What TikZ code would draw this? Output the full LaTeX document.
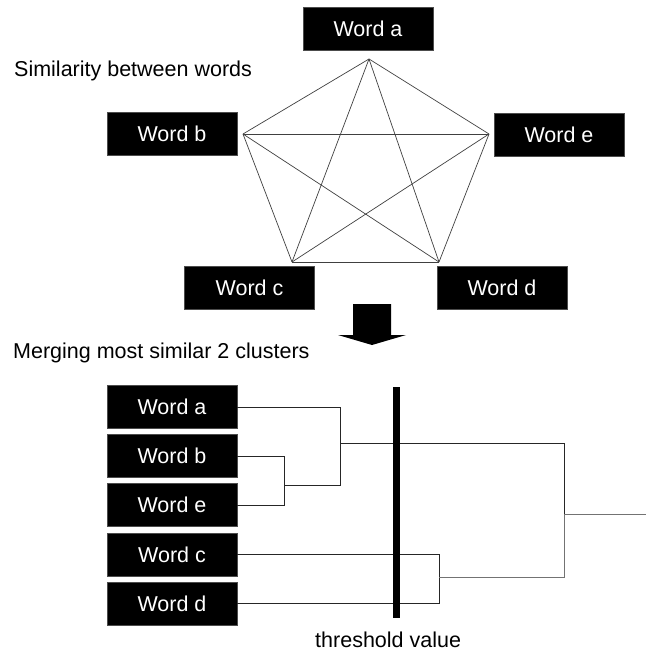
\documentclass[tikz,border=0pt]{standalone}
\usepackage{fontspec}
\setmainfont{Liberation Sans}
\begin{document}
\begin{tikzpicture}[x=1pt,y=-1pt,
  wordbox/.style={fill=black,draw=black!70,line width=0.4pt,text=white,inner sep=0pt,
    minimum width=130pt,minimum height=43pt,font=\fontsize{21.5}{26}\selectfont},
  plain/.style={inner sep=0pt,font=\fontsize{21.5}{26}\selectfont,anchor=base west},
  edge/.style={draw=black!75,line width=0.7pt},
  dline/.style={draw=black!85,line width=0.8pt},
  gline/.style={draw=black!55,line width=0.9pt}]
\useasboundingbox (0,0) rectangle (646,652);
\fill[white] (0,0) rectangle (646,652);
% ---------- top: similarity graph ----------
\node[plain] (t1) at (14,77) {Similarity between words};
\node[wordbox] (wa) at (368,29) {Word a};
\node[wordbox] (wb) at (172,134) {Word b};
\node[wordbox] (we) at (559,134.5) {Word e};
\node[wordbox] (wc) at (249.5,288) {Word c};
\node[wordbox] (wd) at (502,288) {Word d};
\coordinate (pa) at (369,59);
\coordinate (pb) at (243,134);
\coordinate (pe) at (489,134);
\coordinate (pc) at (292,262);
\coordinate (pd) at (439,262);
\foreach \u/\v in {pa/pb,pa/pe,pa/pc,pa/pd,pb/pe,pb/pc,pb/pd,pe/pc,pe/pd,pc/pd}
  \draw[edge] (\u) -- (\v);
% ---------- arrow ----------
\fill[black] (353,304) -- (391,304) -- (391,335) -- (406,335) -- (372,345)
  -- (338,335) -- (353,335) -- cycle;
% ---------- bottom: dendrogram ----------
\node[plain] (t2) at (13,358) {Merging most similar 2 clusters};
\node[wordbox] (na) at (172,407) {Word a};
\node[wordbox] (nb) at (172,456) {Word b};
\node[wordbox] (ne) at (172,505) {Word e};
\node[wordbox] (nc) at (172,554.5) {Word c};
\node[wordbox] (nd) at (172,603.5) {Word d};
\coordinate (jbe) at (284,485);
\coordinate (jabe) at (340,443);
\coordinate (jcd) at (439,577);
\coordinate (jall) at (564,514);
\coordinate (tail) at (646,514);
\draw[dline] (nb.east) -| (jbe);
\draw[dline] (ne.east) -| (jbe);
\draw[dline] (na.east) -| (jabe);
\draw[dline] (jbe) -| (jabe);
\draw[dline] (nc.east) -| (jcd);
\draw[dline] (nd.east) -| (jcd);
\draw[dline] (jabe) -| (jall);
\draw[gline] (jcd) -| (jall);
\draw[gline] (jall) -- (tail);
% threshold bar
\fill[black] (393,387) rectangle (400,618);
\node[plain] (t3) at (315,647) {threshold value};
\end{tikzpicture}
\end{document}
